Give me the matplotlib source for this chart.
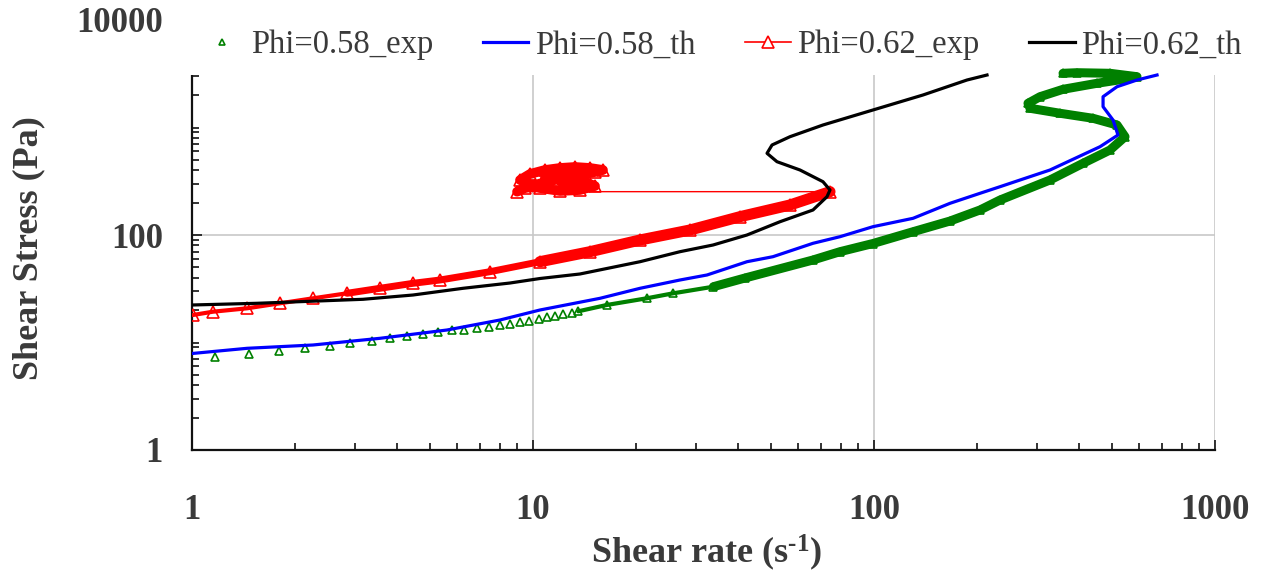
import matplotlib
matplotlib.use("Agg")
import matplotlib.pyplot as plt
from matplotlib.lines import Line2D
from matplotlib.ticker import LogLocator, NullFormatter, FixedLocator, FixedFormatter

plt.rcParams['font.family'] = ['Liberation Serif', 'DejaVu Serif']
plt.rcParams['mathtext.fontset'] = 'custom'
plt.rcParams['mathtext.rm'] = 'Liberation Serif:bold'
plt.rcParams['mathtext.it'] = 'Liberation Serif:bold'
plt.rcParams['mathtext.bf'] = 'Liberation Serif:bold'

# ---------------- data ----------------
# Phi=0.58 experimental (shear rate, shear stress)
exp58_rate = [1.168, 1.472, 1.796, 2.145, 2.534, 2.900, 3.372, 3.807, 4.279, 4.768,
              5.255, 5.799, 6.276, 6.839, 7.442, 8.003, 8.561, 9.161, 9.752, 10.41,
              10.97, 11.60, 12.27, 12.99, 13.58, 16.45, 21.55, 25.78, 33.80, 41.85,
              66.24, 79.47, 99.3, 130.2, 167.1, 204.6, 234.2, 328.2, 410.2, 492.2,
              544.6, 516.0, 438.7, 351.3, 286.8, 282.9, 306.8, 358.4, 450.8, 537.3,
              590.6, 492.2, 393.9, 358.4]
exp58_stress = [7.28, 7.82, 8.34, 8.95, 9.28, 9.96, 10.39, 11.08, 11.50, 11.92,
                12.52, 12.99, 13.16, 13.64, 14.03, 14.45, 14.86, 15.41, 15.95, 16.54,
                17.16, 17.64, 18.30, 18.93, 19.51, 22.33, 25.77, 28.69, 33.04, 39.81,
                58.55, 69.94, 83.35, 107.3, 134.9, 170.9, 211.6, 324.8, 464.5, 617.6,
                821.0, 1055, 1218, 1356, 1509, 1679, 1934, 2266, 2578, 2808,
                2969, 3193, 3234, 3193]

# Phi=0.58 theory
th58_rate = [1.00, 1.450, 2.264, 3.558, 5.595, 8.00, 10.48, 15.72, 20.60, 26.98,
             32.38, 42.42, 50.55, 66.24, 79.47, 99.3, 130.2, 167.1, 204.6, 234.2,
             268.1, 328.2, 460.1, 519.4, 502.3, 469.6, 469.6, 516.0, 590.6, 676.1]
th58_stress = [7.90, 8.83, 9.48, 10.94, 13.07, 16.19, 20.06, 25.77, 31.93, 38.14,
               42.46, 56.44, 62.84, 83.72, 96.4, 119.5, 143.0, 197.2, 244.3, 281.4,
               324.8, 402.4, 662.8, 851.4, 1174, 1561, 1934, 2396, 2766, 3078]

# Phi=0.62 experimental
exp62_rate = [1.007, 1.152, 1.450, 1.812, 2.264, 2.848, 3.558, 4.448, 5.337, 7.478,
              10.48, 14.70, 20.60, 28.87, 40.46, 56.70, 74.30,
              8.98, 9.47, 10.14, 10.84, 11.60, 12.41, 13.28, 14.21, 15.20, 16.04,
              14.70, 13.28, 12.00, 10.84, 9.80, 9.16, 10.48, 12.00, 13.73, 15.20,
              14.21, 12.41, 11.60, 12.41, 10.84]
exp62_stress = [18.03, 19.34, 20.80, 23.16, 25.77, 28.69, 31.93, 35.53, 38.14, 45.56,
                56.44, 69.94, 89.86, 111.3, 148.0, 190.1, 253.0,
                253.0, 273.6, 291.8, 311.2, 324.8, 339.0, 353.9, 369.4, 385.5, 402.4,
                420.1, 429.2, 420.1, 402.4, 369.4, 324.8, 273.6, 256.7, 262.2, 285.6,
                311.2, 291.8, 353.9, 385.5, 339.0]

# Phi=0.62 theory
th62_rate = [1.0, 1.551, 3.173, 4.448, 6.233, 8.561, 10.48, 13.73, 20.60, 26.98,
             33.73, 42.42, 53.01, 66.24, 72.81, 74.30, 70.85, 60.67, 51.94, 48.56,
             50.23, 56.70, 70.85, 99.3, 139.2, 187.4, 214.5]
th62_stress = [22.33, 23.16, 25.23, 27.66, 31.93, 35.76, 39.38, 43.38, 56.44, 69.94,
               80.72, 100, 132.9, 170.9, 227.2, 262.2, 313.2, 402.4, 480.7, 575.4,
               687.5, 821.0, 1055, 1455, 2006, 2766, 3078]

labels = ['Phi=0.58_exp', 'Phi=0.58_th', 'Phi=0.62_exp', 'Phi=0.62_th']
x_ticks = [1, 10, 100, 1000]
x_ticklabels = ['1', '10', '100', '1000']
y_ticks = [1, 100, 10000]
y_ticklabels = ['1', '100', '10000']

GREEN = '#008000'
BLUE = '#0000ff'
RED = '#ff0000'
BLACK = '#000000'
TXT = '#3a3a3a'

fig = plt.figure(figsize=(12.62, 5.74), dpi=100)
ax = fig.add_axes([192/1262, 1 - 450/574, (1215-192)/1262, (450-20)/574])
ax.set_xscale('log')
ax.set_yscale('log')
ax.set_xlim(1, 1000)
ax.set_ylim(1, 10000)

# green exp: overlapping markers drawn as band + markers
ax.plot(exp58_rate[24:29], exp58_stress[24:29], color=GREEN, lw=3,
        solid_capstyle='round', zorder=3)
ax.plot(exp58_rate[28:], exp58_stress[28:], color=GREEN, lw=6.5,
        solid_capstyle='round', solid_joinstyle='round', zorder=3)
ax.plot(exp58_rate, exp58_stress, linestyle='none', marker='^', ms=6,
        mfc='none', mec=GREEN, mew=1.2, zorder=3)

ax.plot(th58_rate, th58_stress, color=BLUE, lw=2.3, zorder=4)

# red exp: thin connecting line, band where markers overlap, markers
n_band62 = 17
ax.plot(exp62_rate, exp62_stress, color=RED, lw=1.0, zorder=3)
ax.plot(exp62_rate[0:6], exp62_stress[0:6], color=RED, lw=3,
        solid_capstyle='round', zorder=3)
ax.plot(exp62_rate[5:11], exp62_stress[5:11], color=RED, lw=5,
        solid_capstyle='round', zorder=3)
ax.plot(exp62_rate[10:n_band62], exp62_stress[10:n_band62], color=RED, lw=8,
        solid_capstyle='round', zorder=3)
ax.plot(exp62_rate[n_band62:], exp62_stress[n_band62:], color=RED, lw=7,
        solid_capstyle='round', zorder=3)
ax.plot(exp62_rate, exp62_stress, linestyle='none', marker='^', ms=8.5,
        mfc='none', mec=RED, mew=1.2, zorder=3)

ax.plot(th62_rate, th62_stress, color=BLACK, lw=2.3, zorder=4)

# axes style
for s in ['top', 'right']:
    ax.spines[s].set_visible(False)
for s in ['left', 'bottom']:
    ax.spines[s].set_linewidth(1.6)
    ax.spines[s].set_color('#111111')

ax.xaxis.set_major_locator(FixedLocator(x_ticks))
ax.xaxis.set_major_formatter(FixedFormatter(x_ticklabels))
ax.xaxis.set_minor_locator(LogLocator(base=10, subs=range(2, 10)))
ax.xaxis.set_minor_formatter(NullFormatter())
ax.yaxis.set_major_locator(FixedLocator(y_ticks))
ax.yaxis.set_major_formatter(FixedFormatter(y_ticklabels))
ax.yaxis.set_minor_locator(LogLocator(base=10, subs=range(1, 10), numticks=20))
ax.yaxis.set_minor_formatter(NullFormatter())

ax.tick_params(axis='both', which='major', direction='in', length=7, width=1.2,
               labelsize=25, colors='#111111', labelcolor=TXT)
ax.tick_params(axis='both', which='minor', direction='in', length=5, width=1.2,
               colors='#111111')
ax.tick_params(axis='x', which='major', pad=32)
ax.tick_params(axis='y', which='major', pad=21)
for lab in ax.get_xticklabels() + ax.get_yticklabels():
    lab.set_fontweight('bold')

ax.grid(True, which='major', color='#c8c8c8', lw=1.2, zorder=0.5)
ax.grid(False, which='minor')
ax.set_axisbelow(True)

ax.set_xlabel('Shear rate (s$^{\u2010\\mathbf{1}}$)', fontsize=26, fontweight='bold', color=TXT)
ax.set_ylabel('Shear Stress (Pa)', fontsize=26, fontweight='bold', color=TXT)
ax.xaxis.set_label_coords(0.503, -0.193)
ax.yaxis.set_label_coords(-0.143, 0.47)

handles = [
    Line2D([], [], linestyle='none', marker='^', ms=5, mfc='none', mec=GREEN, mew=1.2),
    Line2D([], [], color=BLUE, lw=2.3),
    Line2D([], [], color=RED, lw=1.2, marker='^', ms=8.5, mfc='white', mec=RED, mew=1.2),
    Line2D([], [], color=BLACK, lw=2.3),
]
leg = ax.legend(handles, labels, loc='center left',
                bbox_to_anchor=(184/1262, 1 - 45/574), bbox_transform=fig.transFigure,
                ncol=4, frameon=True, fontsize=23.5, handlelength=1.4,
                handletextpad=0.2, columnspacing=1.52, borderpad=0.45,
                borderaxespad=0)
leg.get_frame().set_facecolor('white')
leg.get_frame().set_edgecolor('none')
leg.get_frame().set_alpha(1)
leg.set_zorder(2.5)
for t in leg.get_texts():
    t.set_color(TXT)

fig.savefig('out.png', dpi=100)
